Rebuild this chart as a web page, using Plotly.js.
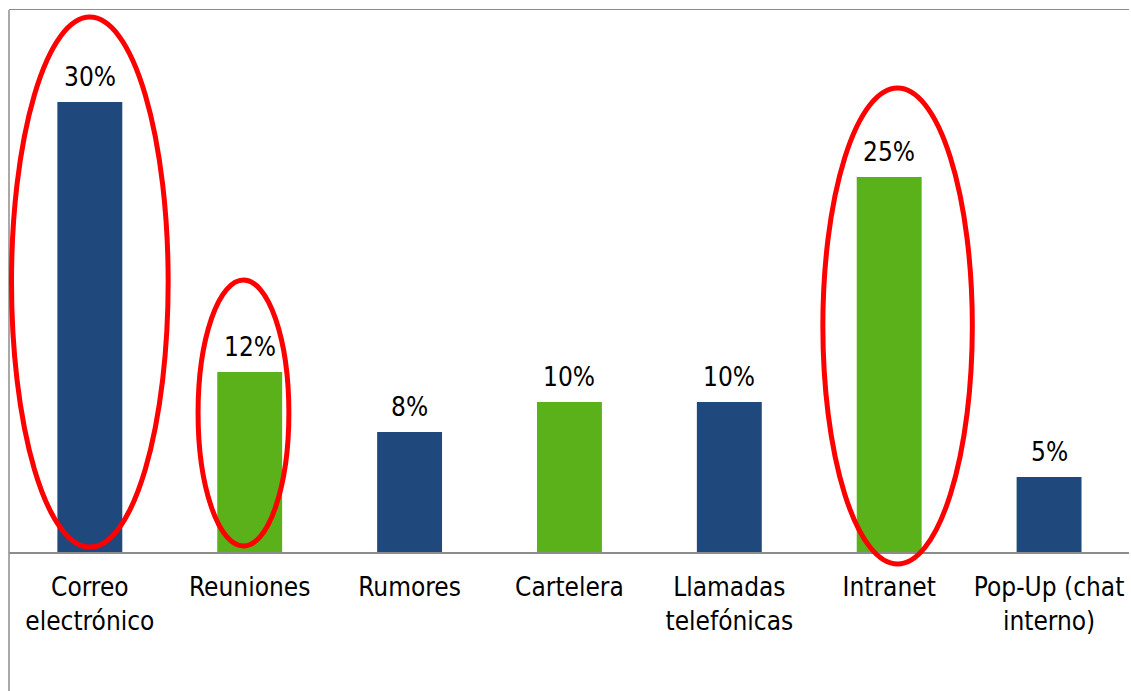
<!DOCTYPE html>
<html>
<head>
<meta charset="utf-8">
<script src="https://cdn.plot.ly/plotly-3.0.1.min.js"></script>
<style>
  html, body {margin: 0; padding: 0; background: #fff;}
  #chart {width: 1131px; height: 691px;}
</style>
</head>
<body>
<div id="chart"></div>
<script>
// Canales de comunicación interna (%)
const categories = ['Correo<br>electrónico', 'Reuniones', 'Rumores', 'Cartelera',
                    'Llamadas<br>telefónicas', 'Intranet', 'Pop-Up (chat<br>interno)'];
const values = [30, 12, 8, 10, 10, 25, 5];
const barColors = ['#1f497d', '#5ab11a', '#1f497d', '#5ab11a', '#1f497d', '#5ab11a', '#1f497d'];

const FONT = '"DejaVu Sans Condensed", "DejaVu Sans", Tahoma, sans-serif';

const trace = {
    x: categories,
    y: values,
    type: 'bar',
    width: 0.406,
    marker: {color: barColors},
    hoverinfo: 'none'
};

// value labels above the bars
const labels = categories.map((c, i) => ({
    x: c,
    y: values[i],
    text: values[i] + '%',
    xref: 'x',
    yref: 'y',
    yanchor: 'bottom',
    yshift: 8,
    showarrow: false,
    font: {family: FONT, size: 26, color: '#000'}
}));

const redLine = {color: '#ff0000', width: 5};

const layout = {
    width: 1131,
    height: 691,
    margin: {l: 8.5, r: 1.5, t: 10, b: 139},
    paper_bgcolor: '#fff',
    plot_bgcolor: '#fff',
    showlegend: false,
    font: {family: FONT, size: 26, color: '#000'},
    xaxis: {
        type: 'category',
        showline: true,
        mirror: true,
        linecolor: '#8c8c8c',
        linewidth: 1.5,
        ticks: '',
        showgrid: false,
        ticklabelstandoff: 11,
        tickfont: {family: FONT, size: 26, color: '#000'}
    },
    yaxis: {
        range: [0, 36.13],
        showgrid: false,
        zeroline: false,
        showticklabels: false,
        ticks: ''
    },
    annotations: labels,
    shapes: [
        // left frame line
        {type: 'line', xref: 'paper', yref: 'paper', x0: 0, x1: 0, y0: -0.3, y1: 1,
         line: {color: '#8c8c8c', width: 1.5}},
        // highlight ellipses
        {type: 'circle', xref: 'x', yref: 'paper', x0: -0.49, x1: 0.49, y0: 0.009, y1: 0.987,
         line: redLine, layer: 'above'},
        {type: 'circle', xref: 'x', yref: 'paper', x0: 0.677, x1: 1.245, y0: 0.011, y1: 0.502,
         line: redLine, layer: 'above'},
        {type: 'circle', xref: 'x', yref: 'paper', x0: 4.585, x1: 5.52, y0: -0.022, y1: 0.856,
         line: redLine, layer: 'above'}
    ]
};

Plotly.newPlot('chart', [trace], layout, {displayModeBar: false, staticPlot: true});
</script>
</body>
</html>
